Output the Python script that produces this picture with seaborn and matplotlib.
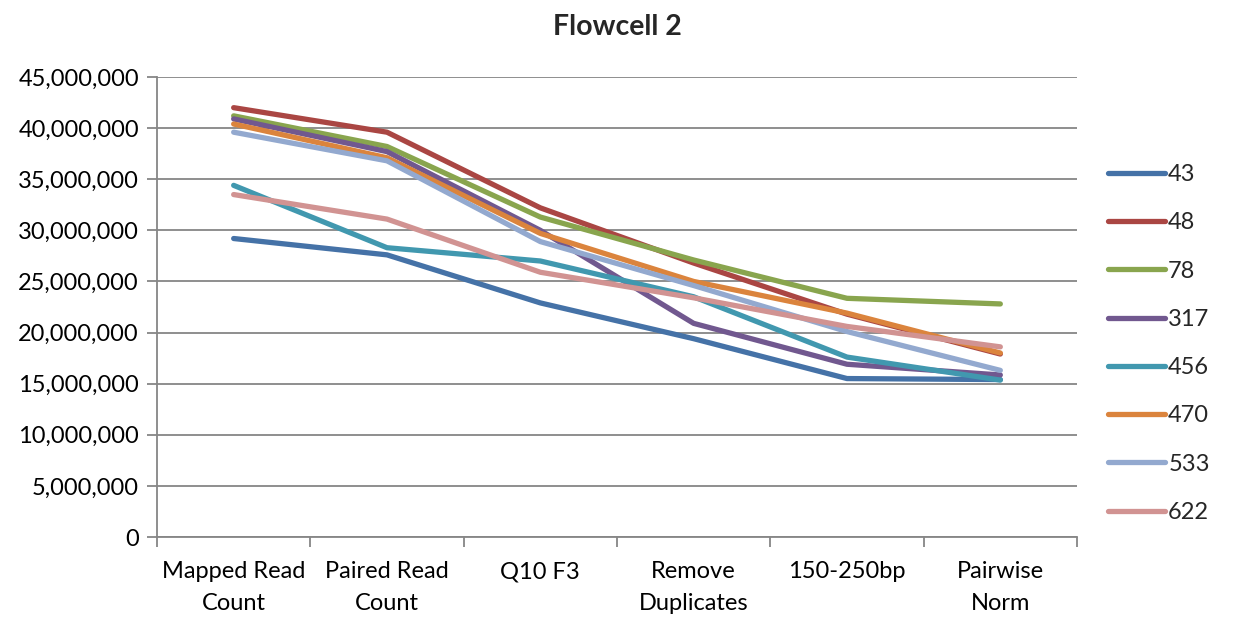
import matplotlib
matplotlib.use("Agg")
import matplotlib.pyplot as plt
import matplotlib.ticker as mticker
import seaborn as sns
import pandas as pd
import numpy as np

categories = ["Mapped Read\nCount", "Paired Read\nCount", "Q10 F3",
              "Remove\nDuplicates", "150-250bp", "Pairwise\nNorm"]
samples = ["43", "48", "78", "317", "456", "470", "533", "622"]

s43 = [29.2e6, 27.6e6, 22.9e6, 19.4e6, 15.5e6, 15.4e6]
s48 = [42.0e6, 39.6e6, 32.2e6, 26.8e6, 21.8e6, 17.9e6]
s78 = [41.2e6, 38.2e6, 31.3e6, 27.1e6, 23.35e6, 22.8e6]
s317 = [40.9e6, 37.7e6, 30.0e6, 20.9e6, 16.9e6, 15.85e6]
s456 = [34.4e6, 28.3e6, 27.0e6, 23.5e6, 17.6e6, 15.35e6]
s470 = [40.4e6, 37.1e6, 29.7e6, 25.0e6, 21.9e6, 18.0e6]
s533 = [39.6e6, 36.8e6, 28.9e6, 24.6e6, 20.1e6, 16.3e6]
s622 = [33.5e6, 31.1e6, 25.9e6, 23.4e6, 20.6e6, 18.6e6]

series = [s43, s48, s78, s317, s456, s470, s533, s622]
colors = ["#4572A7", "#AA4643", "#89A54E", "#71588F",
          "#4198AF", "#DB843D", "#93A9CF", "#D19392"]

rows = []
for name, vals in zip(samples, series):
    for i, v in enumerate(vals):
        rows.append({"step": i, "count": v, "sample": name})
df = pd.DataFrame(rows)

sns.set_theme(style="white")
plt.rcParams["font.family"] = ["Lato", "DejaVu Sans"]

fig = plt.figure(figsize=(12.34, 6.17), dpi=100)
ax = fig.add_axes([157/1234, 1-537/617, 920/1234, 460/617])

sns.lineplot(data=df, x="step", y="count", hue="sample", hue_order=samples,
             palette=colors, linewidth=3.8, ax=ax, legend=True,
             solid_capstyle="round", solid_joinstyle="round")

ax.set_xlim(-0.5, len(categories) - 0.5)
ax.set_ylim(0, 45e6)
ax.yaxis.set_major_locator(mticker.MultipleLocator(5e6))
ax.yaxis.set_major_formatter(mticker.FuncFormatter(lambda v, p: f"{int(v):,}"))
ax.grid(axis="y", color="#868686", linewidth=1.3)
ax.set_axisbelow(True)

ax.set_xticks(np.arange(-0.5, len(categories), 1.0))
ax.set_xticklabels([])
ax.set_xticks(np.arange(len(categories)), minor=True)
ax.set_xticklabels(categories, minor=True, fontsize=17, color="#000000",
                   linespacing=1.62)
ax.tick_params(axis="x", which="major", length=7, width=1.3, color="#868686",
               direction="out", bottom=True)
ax.tick_params(axis="x", which="minor", length=0, pad=17.5)
ax.tick_params(axis="y", length=7, width=1.3, color="#868686", direction="out",
               left=True, labelsize=17, labelcolor="#000000", pad=6)

for side in ["top", "right"]:
    ax.spines[side].set_visible(False)
for side in ["left", "bottom"]:
    ax.spines[side].set_color("#868686")
    ax.spines[side].set_linewidth(1.3)

ax.set_xlabel("")
ax.set_ylabel("")

handles, labels = ax.get_legend_handles_labels()
ax.get_legend().remove()
for h in handles:
    h.set_linewidth(3.8)
    h.set_solid_capstyle("round")
fig.legend(handles, labels, loc="upper left",
           bbox_to_anchor=(1108/1234, 1-164/617), frameon=False,
           fontsize=17, handlelength=2.4, handletextpad=0.15,
           labelspacing=1.155, borderaxespad=0, borderpad=0)

fig.text(617/1234, 1-27/617, "Flowcell 2", ha="center", va="center",
         fontsize=20.5, fontweight="bold")

fig.savefig("out.png", dpi=100, facecolor="white")
